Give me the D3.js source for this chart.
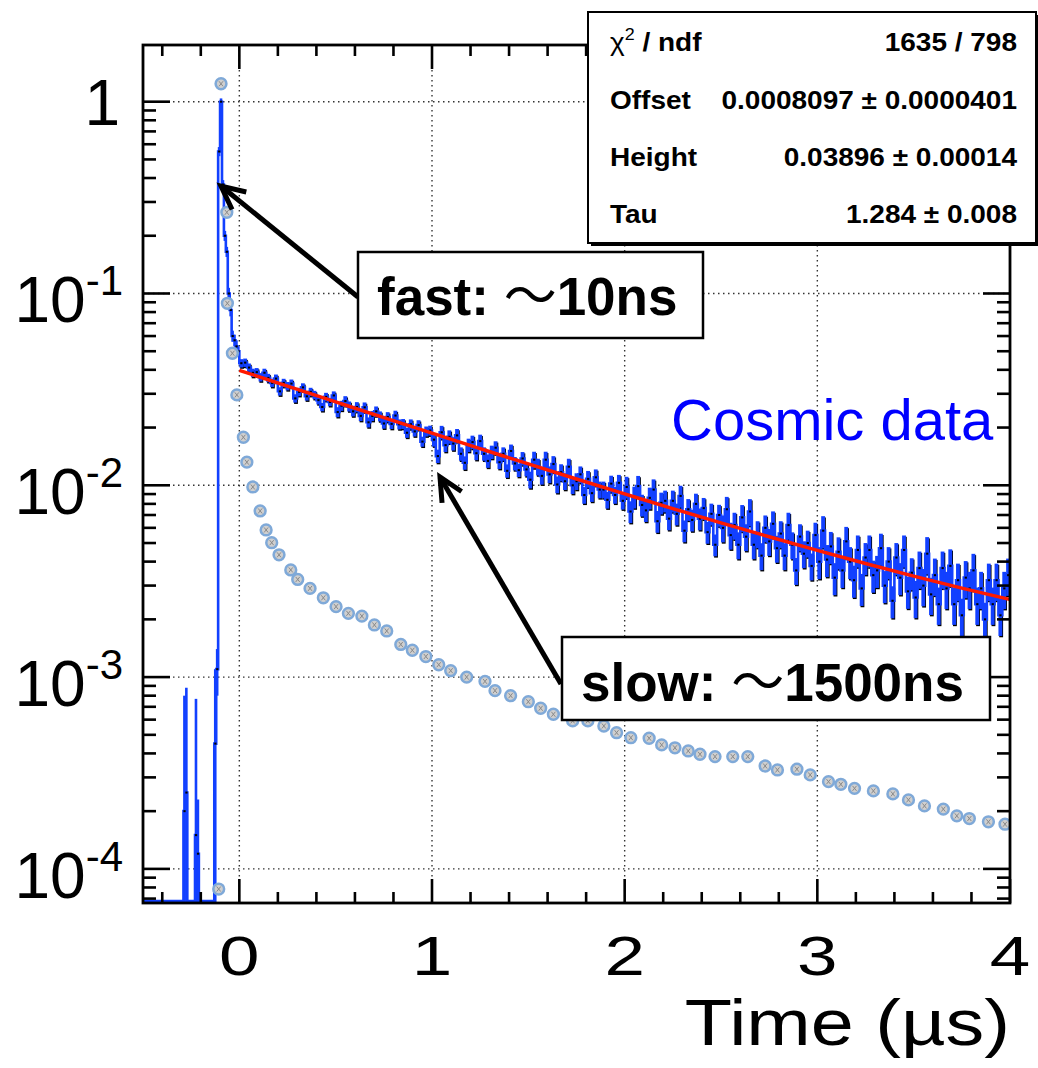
<!DOCTYPE html>
<html>
<head>
<meta charset="utf-8">
<script src="https://cdn.jsdelivr.net/npm/d3@7"></script>
<style>
  body { margin: 0; background: #fff; }
  svg { display: block; }
</style>
</head>
<body>
<svg></svg>
<script>
let width = 1038;
let height = 1068;

// fast component, 0.01 us bins (low edge), content and error
let fastT = [-0.29, -0.28, -0.23, -0.22, -0.13, -0.12, -0.11, -0.10, -0.09, -0.08,
             -0.07, -0.06, -0.05, -0.04, -0.03, -0.02, -0.01];
let fastV = [2.0e-4, 2.5e-4, 1.5e-4, 1.2e-4, 4.5e-4, 1.1e-3, 0.55, 1.0, 0.37, 0.20,
             0.165, 0.10, 0.082, 0.060, 0.057, 0.053, 0.050];
let fastE = [6.0e-4, 6.3e-4, 6.2e-4, 1.1e-4, 6.5e-4, 3e-4, 0.03, 0.04, 0.02, 0.012,
             0.01, 0.007, 0.006, 0.004, 0.004, 0.004, 0.003];

// slow component, 0.02 us bins from 0 to 4
let slowV = [
  0.0433, 0.0436, 0.0411, 0.0386, 0.0389, 0.0366, 0.0386, 0.0363, 0.0342, 0.0360,
  0.0309, 0.0342, 0.0329, 0.0339, 0.0284, 0.0307, 0.0324, 0.0291, 0.0307, 0.0296,
  0.0278, 0.0256, 0.0289, 0.0272, 0.0294, 0.0241, 0.0260, 0.0275, 0.0258, 0.0243,
  0.0256, 0.0230, 0.0255, 0.0213, 0.0230, 0.0243, 0.0229, 0.0210, 0.0227, 0.0209,
  0.0231, 0.0208, 0.0209, 0.0188, 0.0208, 0.0191, 0.0206, 0.0169, 0.0191, 0.0193,
  0.0173, 0.0142, 0.0189, 0.0162, 0.0179, 0.0165, 0.0182, 0.0146, 0.0131, 0.0162,
  0.0168, 0.0147, 0.0170, 0.0146, 0.0134, 0.0149, 0.0157, 0.0132, 0.0146, 0.0119,
  0.0151, 0.0130, 0.0120, 0.0138, 0.0121, 0.0107, 0.0136, 0.0125, 0.0112, 0.0136,
  0.0114, 0.0129, 0.0101, 0.0117, 0.0105, 0.0125, 0.0100, 0.0105, 0.0114, 0.0089,
  0.0108, 0.0091, 0.0110, 0.0095, 0.0095, 0.0084, 0.0102, 0.0089, 0.0103, 0.0083,
  0.0098, 0.0073, 0.0087, 0.0099, 0.0079, 0.0074, 0.0086, 0.0095, 0.0065, 0.0081,
  0.0083, 0.0067, 0.0083, 0.0071, 0.0088, 0.0058, 0.0075, 0.0066, 0.0080, 0.0067,
  0.0076, 0.0057, 0.0071, 0.0049, 0.0070, 0.0060, 0.0075, 0.0055, 0.0062, 0.0049,
  0.0068, 0.0054, 0.0073, 0.0049, 0.0056, 0.0043, 0.0060, 0.0051, 0.0063, 0.0047,
  0.0056, 0.0043, 0.0062, 0.0049, 0.0036, 0.0054, 0.0044, 0.0050, 0.0038, 0.0055,
  0.0040, 0.0058, 0.0041, 0.0048, 0.0033, 0.0045, 0.0036, 0.0051, 0.0040, 0.0032,
  0.0046, 0.0029, 0.0042, 0.0046, 0.0034, 0.0036, 0.0047, 0.0030, 0.0040, 0.0025,
  0.0042, 0.0033, 0.0046, 0.0028, 0.0035, 0.0026, 0.0037, 0.0030, 0.0044, 0.0027,
  0.0034, 0.0024, 0.0037, 0.0029, 0.0038, 0.0024, 0.0032, 0.0021, 0.0033, 0.0029,
  0.0036, 0.0024, 0.0029, 0.0020, 0.0032, 0.0024, 0.0032, 0.0021, 0.0029, 0.0034];
// relative error of the slow bins, per 0.5 us
let slowErr = [0.05, 0.06, 0.08, 0.10, 0.13, 0.16, 0.19, 0.22];

// grey reference points
let refT = [-0.107, -0.095, -0.065, -0.062, -0.036, -0.013, 0.021, 0.039, 0.070, 0.108,
            0.139, 0.168, 0.206, 0.267, 0.303, 0.367, 0.436, 0.502, 0.566, 0.636,
            0.701, 0.765, 0.838, 0.898, 0.968, 1.035, 1.097, 1.180, 1.275, 1.327,
            1.408, 1.500, 1.564, 1.630, 1.730, 1.809, 1.892, 1.958, 2.032, 2.127,
            2.192, 2.261, 2.330, 2.391, 2.469, 2.561, 2.639, 2.729, 2.793, 2.894,
            2.963, 3.058, 3.122, 3.193, 3.291, 3.392, 3.473, 3.556, 3.654, 3.724,
            3.789, 3.888, 3.974];
let refV = [7.85e-5, 1.24, 0.265, 0.0889, 0.0488, 0.0296, 0.0178, 0.0132, 0.0098, 0.00735,
            0.00585, 0.00502, 0.00434, 0.00362, 0.00323, 0.00290, 0.00259, 0.00233, 0.00215, 0.00208,
            0.00187, 0.00174, 0.00148, 0.00138, 0.00128, 0.00116, 0.00108, 0.00100, 0.00095, 0.00085,
            0.00080, 0.000744, 0.000688, 0.000640, 0.000591, 0.000591, 0.000556, 0.000513, 0.000483, 0.000480,
            0.000443, 0.000428, 0.000412, 0.000396, 0.000385, 0.000385, 0.000385, 0.000344, 0.000328, 0.000331,
            0.000309, 0.000285, 0.000276, 0.000263, 0.000255, 0.000246, 0.000229, 0.000213, 0.000205, 0.000189,
            0.000183, 0.000176, 0.000171];

// fit curve (red)
let fitT = [0, 0.25, 0.5, 0.75, 1, 1.25, 1.5, 1.75, 2, 2.25, 2.5, 2.75, 3, 3.25, 3.5, 3.75, 4];
let fitV = [0.03977, 0.03288, 0.02721, 0.02253, 0.01869, 0.01553, 0.01292, 0.01078, 0.00902,
            0.00756, 0.00637, 0.00539, 0.00458, 0.00391, 0.00336, 0.00291, 0.00254];

let xTickVals = [0, 1, 2, 3, 4];
let yTickVals = [1, 1e-1, 1e-2, 1e-3, 1e-4];
let yTickExp = ["", "-1", "-2", "-3", "-4"];

let statNames = ["Offset", "Height", "Tau"];
let statVals = ["1635 / 798", "0.0008097 \u00b1 0.0000401", "0.03896 \u00b1 0.00014", "1.284 \u00b1 0.008"];

let font = "'Liberation Sans', Arial, Helvetica, sans-serif";

window.onload = function() {

  let svg = d3.select("svg")
    .attr("width", width)
    .attr("height", height)
    .style("font-family", font);

  let x = d3.scaleLinear().domain([-0.5, 4]).range([143, 1010]);
  let y = d3.scaleLog().domain([6.64e-5, 1.975]).range([903, 45]);
  let yMin = y.domain()[0];

  svg.append("clipPath").attr("id", "frame")
    .append("rect")
      .attr("x", x.range()[0]).attr("y", y.range()[1])
      .attr("width", x.range()[1] - x.range()[0])
      .attr("height", y.range()[0] - y.range()[1]);

  // grid
  let grid = svg.append("g")
    .attr("stroke", "#333")
    .attr("stroke-width", 1.4)
    .attr("stroke-dasharray", "1.5,3.5");
  grid.selectAll(".gx").data(xTickVals).enter().append("line")
    .attr("x1", d => x(d)).attr("x2", d => x(d))
    .attr("y1", y.range()[1]).attr("y2", y.range()[0]);
  grid.selectAll(".gy").data(yTickVals).enter().append("line")
    .attr("x1", x.range()[0]).attr("x2", x.range()[1])
    .attr("y1", d => y(d)).attr("y2", d => y(d));

  // build the bins
  let bins = [];
  for (let i = 0; i < 50; i++) {
    let lo = -0.5 + i * 0.01;
    let k = fastT.findIndex(t => Math.abs(t - lo) < 0.001);
    bins.push({lo: lo, hi: lo + 0.01, v: k >= 0 ? fastV[k] : 0, e: k >= 0 ? fastE[k] : 0, slow: false});
  }
  slowV.forEach((v, i) => {
    let lo = i * 0.02;
    bins.push({lo: lo, hi: lo + 0.02, v: v, e: v * slowErr[Math.floor(lo / 0.5)], slow: true});
  });

  let yv = d => d.v > 0 ? y(Math.max(d.v, yMin)) : y.range()[0] - 2;
  let stepPts = [];
  bins.forEach(d => {
    stepPts.push([x(d.lo), yv(d)]);
    stepPts.push([x(d.hi), yv(d)]);
  });

  let plot = svg.append("g").attr("clip-path", "url(#frame)");

  function drawHist(g, colour, list, withLine) {
    g.selectAll("rect.err")
      .data(list.filter(d => d.v > 0))
      .enter()
      .append("rect")
        .attr("class", "err")
        .attr("x", d => (x(d.lo) + x(d.hi)) / 2 - Math.max(x(d.hi) - x(d.lo), 2.6) / 2)
        .attr("width", d => Math.max(x(d.hi) - x(d.lo), 2.6))
        .attr("y", d => y(d.v + d.e))
        .attr("height", d => (d.v - d.e > yMin ? y(d.v - d.e) : y.range()[0]) - y(d.v + d.e))
        .attr("fill", colour);
    if (withLine) {
      g.append("path")
        .attr("d", d3.line()(stepPts))
        .attr("fill", "none")
        .attr("stroke", colour)
        .attr("stroke-width", 2.6);
    }
  }

  // thin black shadow under the slow part, then the blue histogram
  drawHist(plot.append("g").attr("transform", "translate(0.8,1.3)"), "#000", bins.filter(d => d.slow), false);
  drawHist(plot.append("g"), "#1240ff", bins, true);

  // bin markers
  plot.append("g").selectAll("rect")
    .data(bins.filter(d => d.v > 0))
    .enter()
    .append("rect")
      .attr("x", d => (x(d.lo) + x(d.hi)) / 2 - 1)
      .attr("y", d => y(d.v) - 1)
      .attr("width", 2.2)
      .attr("height", 2)
      .attr("fill", "#000");

  // fit
  plot.append("path")
    .datum(fitT.map((t, i) => [t, fitV[i]]))
    .attr("d", d3.line().x(d => x(d[0])).y(d => y(d[1])).curve(d3.curveMonotoneX))
    .attr("fill", "none")
    .attr("stroke", "#ff1a00")
    .attr("stroke-width", 3.5);

  // grey reference markers
  let marks = plot.append("g").selectAll("g")
    .data(refT.map((t, i) => [t, refV[i]]))
    .enter()
    .append("g")
      .attr("transform", d => "translate(" + x(d[0]) + "," + y(d[1]) + ")");
  marks.append("circle")
    .attr("r", 5.4)
    .attr("fill", "#cfcfcf")
    .attr("stroke", "#7fa9d8")
    .attr("stroke-width", 2.5);
  marks.append("path")
    .attr("d", "M-2,-2.5L2,2.5M2,-2.5L-2,2.5")
    .attr("stroke", "#8a8a8a")
    .attr("stroke-width", 1);

  // frame and ticks
  let axes = svg.append("g").attr("stroke", "#000").attr("stroke-width", 2.6);
  let xMinor = d3.range(-0.4, 4.0, 0.2).filter(t => Math.abs(t - Math.round(t)) > 0.01);
  let xt = xTickVals.map(t => [t, 24]).concat(xMinor.map(t => [t, 11]));
  axes.selectAll(".xb").data(xt).enter().append("line")
    .attr("x1", d => x(d[0])).attr("x2", d => x(d[0]))
    .attr("y1", y.range()[0]).attr("y2", d => y.range()[0] - d[1]);
  axes.selectAll(".xt").data(xt).enter().append("line")
    .attr("x1", d => x(d[0])).attr("x2", d => x(d[0]))
    .attr("y1", y.range()[1]).attr("y2", d => y.range()[1] + d[1]);

  let yt = [];
  for (let k = -5; k <= 0; k++) {
    for (let m = 1; m <= 9; m++) {
      let v = m * Math.pow(10, k);
      if (v >= yMin && v <= y.domain()[1]) yt.push([v, m === 1 ? 27 : 13]);
    }
  }
  axes.selectAll(".yl").data(yt).enter().append("line")
    .attr("x1", x.range()[0]).attr("x2", d => x.range()[0] + d[1])
    .attr("y1", d => y(d[0])).attr("y2", d => y(d[0]));
  axes.selectAll(".yr").data(yt).enter().append("line")
    .attr("x1", x.range()[1]).attr("x2", d => x.range()[1] - d[1])
    .attr("y1", d => y(d[0])).attr("y2", d => y(d[0]));

  svg.append("rect")
    .attr("x", x.range()[0]).attr("y", y.range()[1])
    .attr("width", x.range()[1] - x.range()[0])
    .attr("height", y.range()[0] - y.range()[1])
    .attr("fill", "none")
    .attr("stroke", "#000")
    .attr("stroke-width", 2.8);

  // tick labels
  svg.selectAll(".xlab").data(xTickVals).enter().append("text")
    .attr("transform", d => "translate(" + x(d) + ",975) scale(1.3,1)")
    .attr("text-anchor", "middle")
    .attr("font-size", 56)
    .text(d => d);

  let ylab = svg.selectAll(".ylab").data(yTickVals).enter().append("text")
    .attr("x", (d, i) => i === 0 ? 120 : 123)
    .attr("y", (d, i) => y(d) + (i === 0 ? 23 : 29))
    .attr("text-anchor", "end");
  ylab.append("tspan")
    .attr("font-size", 64)
    .text((d, i) => i === 0 ? "1" : "10");
  ylab.filter((d, i) => i > 0).append("tspan")
    .attr("font-size", 42)
    .attr("dy", -27)
    .text((d, i) => yTickExp[i + 1]);

  svg.append("text")
    .attr("transform", "translate(1010,1045) scale(1.19,1)")
    .attr("text-anchor", "end")
    .attr("font-size", 65)
    .text("Time (\u00b5s)");

  // stats box
  svg.append("rect")
    .attr("x", 591).attr("y", 15).attr("width", 448).attr("height", 231)
    .attr("fill", "#000");
  svg.append("rect")
    .attr("x", 588).attr("y", 12).attr("width", 448).attr("height", 231)
    .attr("fill", "#fff").attr("stroke", "#000").attr("stroke-width", 2);

  let rowY = [51, 109, 166, 223];
  let sx = 1.12;
  let chi = svg.append("text")
    .attr("transform", "translate(610," + rowY[0] + ") scale(" + sx + ",1)")
    .attr("font-size", 25);
  chi.append("tspan").text("\u03c7");
  chi.append("tspan").attr("font-size", 16).attr("dy", -11).text("2");
  chi.append("tspan").attr("dy", 11).attr("font-weight", "bold").text(" / ndf");

  svg.selectAll(".sname").data(statNames).enter().append("text")
    .attr("transform", (d, i) => "translate(610," + rowY[i + 1] + ") scale(" + sx + ",1)")
    .attr("font-size", 25)
    .attr("font-weight", "bold")
    .text(d => d);
  svg.selectAll(".sval").data(statVals).enter().append("text")
    .attr("transform", (d, i) => "translate(1017," + rowY[i] + ") scale(" + sx + ",1)")
    .attr("text-anchor", "end")
    .attr("font-size", 25)
    .attr("font-weight", "bold")
    .text(d => d);

  // arrows
  function arrow(x1, y1, x2, y2) {
    let a = Math.atan2(y1 - y2, x1 - x2);
    let len = 26, spread = 0.45;
    let g = svg.append("g")
      .attr("stroke", "#000")
      .attr("stroke-width", 5)
      .attr("stroke-linecap", "butt")
      .attr("fill", "none");
    g.append("line").attr("x1", x1).attr("y1", y1).attr("x2", x2).attr("y2", y2);
    g.append("path")
      .attr("d", "M" + (x2 + len * Math.cos(a + spread)) + "," + (y2 + len * Math.sin(a + spread)) +
                 "L" + x2 + "," + y2 +
                 "L" + (x2 + len * Math.cos(a - spread)) + "," + (y2 + len * Math.sin(a - spread)));
  }
  arrow(358, 297, 221, 186);
  arrow(561, 684, 440, 477);

  // annotation boxes
  function note(bx, by, bw, bh, tx, ty, before, after) {
    svg.append("rect")
      .attr("x", bx).attr("y", by).attr("width", bw).attr("height", bh)
      .attr("fill", "#fff").attr("stroke", "#000").attr("stroke-width", 2.5);
    let t = svg.append("text")
      .attr("x", tx).attr("y", ty)
      .attr("font-size", 53)
      .attr("font-weight", "bold");
    t.append("tspan").text(before);
    t.append("tspan")
      .attr("font-family", "'Noto Sans CJK JP', sans-serif")
      .attr("font-weight", "normal")
      .text("\uff5e");
    t.append("tspan").text(after);
  }
  note(358, 252, 345, 86, 377, 315, "fast: ", "10ns");
  note(562, 637, 428, 83, 581, 701, "slow: ", "1500ns");

  svg.append("text")
    .attr("x", 671).attr("y", 440)
    .attr("font-size", 58)
    .attr("fill", "#0000ff")
    .text("Cosmic data");
};
</script>
</body>
</html>
